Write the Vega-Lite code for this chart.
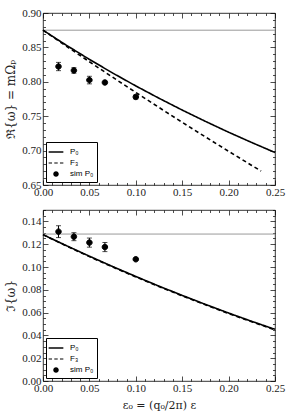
{
  "$schema": "https://vega.github.io/schema/vega-lite/v6.json",
  "padding": {"left": 4, "top": 6, "right": 17, "bottom": 1},
  "spacing": 3,
  "config": {
    "view": {"stroke": "#000", "strokeWidth": 0.8},
    "font": "Liberation Serif",
    "axis": {"domain": false, "grid": false, "labelFont": "Liberation Serif", "labelFontSize": 11, "labelColor": "#222", "tickColor": "#000", "tickWidth": 0.7, "titleFont": "DejaVu Serif", "titleFontWeight": "normal", "titleFontSize": 12, "titleColor": "#222"},
    "legend": {"orient": "bottom-left", "offset": 3, "padding": 3, "strokeColor": "#000", "fillColor": "#fff", "cornerRadius": 0, "labelFont": "Liberation Sans", "labelFontSize": 8, "labelColor": "#000", "symbolSize": 150, "symbolStrokeColor": "#000", "symbolFillColor": "#000", "symbolStrokeWidth": 1, "rowPadding": 0, "labelOffset": 7, "title": null}
  },
  "datasets": {
    "refTop": [{"y": 0.875}],
    "refBot": [{"y": 0.1289}],
    "curvesTop": [
      {"series": "P₀", "x": 0.0, "y": 0.875}, {"series": "P₀", "x": 0.025, "y": 0.8533}, {"series": "P₀", "x": 0.05, "y": 0.8326}, {"series": "P₀", "x": 0.075, "y": 0.8128}, {"series": "P₀", "x": 0.1, "y": 0.794}, {"series": "P₀", "x": 0.125, "y": 0.7761}, {"series": "P₀", "x": 0.15, "y": 0.7589}, {"series": "P₀", "x": 0.175, "y": 0.7425}, {"series": "P₀", "x": 0.2, "y": 0.7267}, {"series": "P₀", "x": 0.225, "y": 0.7117}, {"series": "P₀", "x": 0.25, "y": 0.6972},
      {"series": "F₃", "x": 0.0, "y": 0.875}, {"series": "F₃", "x": 0.025, "y": 0.8519}, {"series": "F₃", "x": 0.05, "y": 0.8291}, {"series": "F₃", "x": 0.075, "y": 0.8067}, {"series": "F₃", "x": 0.1, "y": 0.7845}, {"series": "F₃", "x": 0.125, "y": 0.7627}, {"series": "F₃", "x": 0.15, "y": 0.7411}, {"series": "F₃", "x": 0.175, "y": 0.7199}, {"series": "F₃", "x": 0.2, "y": 0.699}, {"series": "F₃", "x": 0.225, "y": 0.6784}, {"series": "F₃", "x": 0.235, "y": 0.6703}
    ],
    "curvesBot": [
      {"series": "P₀", "x": 0.0, "y": 0.1284}, {"series": "P₀", "x": 0.025, "y": 0.1188}, {"series": "P₀", "x": 0.05, "y": 0.1095}, {"series": "P₀", "x": 0.075, "y": 0.1004}, {"series": "P₀", "x": 0.1, "y": 0.0917}, {"series": "P₀", "x": 0.125, "y": 0.0832}, {"series": "P₀", "x": 0.15, "y": 0.0751}, {"series": "P₀", "x": 0.175, "y": 0.0672}, {"series": "P₀", "x": 0.2, "y": 0.0596}, {"series": "P₀", "x": 0.225, "y": 0.0523}, {"series": "P₀", "x": 0.25, "y": 0.0453},
      {"series": "F₃", "x": 0.0, "y": 0.1284}, {"series": "F₃", "x": 0.025, "y": 0.1185}, {"series": "F₃", "x": 0.05, "y": 0.1091}, {"series": "F₃", "x": 0.075, "y": 0.1}, {"series": "F₃", "x": 0.1, "y": 0.0913}, {"series": "F₃", "x": 0.125, "y": 0.0828}, {"series": "F₃", "x": 0.15, "y": 0.0747}, {"series": "F₃", "x": 0.175, "y": 0.0668}, {"series": "F₃", "x": 0.2, "y": 0.0592}, {"series": "F₃", "x": 0.225, "y": 0.0519}, {"series": "F₃", "x": 0.25, "y": 0.0449}
    ],
    "simTop": [
      {"series": "sim P₀", "x": 0.0167, "y": 0.8222, "err": 0.006},
      {"series": "sim P₀", "x": 0.0333, "y": 0.8165, "err": 0.004},
      {"series": "sim P₀", "x": 0.05, "y": 0.8025, "err": 0.0055},
      {"series": "sim P₀", "x": 0.0667, "y": 0.799, "err": 0.002},
      {"series": "sim P₀", "x": 0.1, "y": 0.778, "err": 0.003}
    ],
    "simBot": [
      {"series": "sim P₀", "x": 0.0167, "y": 0.131, "err": 0.0052},
      {"series": "sim P₀", "x": 0.0333, "y": 0.1266, "err": 0.0035},
      {"series": "sim P₀", "x": 0.05, "y": 0.1214, "err": 0.004},
      {"series": "sim P₀", "x": 0.0667, "y": 0.1175, "err": 0.004},
      {"series": "sim P₀", "x": 0.1, "y": 0.1068, "err": 0.001}
    ]
  },
  "vconcat": [
    {
      "width": 232, "height": 172,
      "layer": [
        {"data": {"name": "refTop"}, "mark": {"type": "rule", "color": "#999", "strokeWidth": 1},
         "encoding": {"y": {"field": "y", "type": "quantitative", "scale": {"domain": [0.65, 0.9]}, "axis": null}}},
        {"data": {"name": "curvesTop"}, "mark": {"type": "line", "color": "#000", "strokeWidth": 1.6},
         "encoding": {
           "x": {"field": "x", "type": "quantitative", "scale": {"domain": [0, 0.25], "nice": false},
                 "axis": {"orient": "bottom", "title": null, "values": [0,0.01,0.02,0.03,0.04,0.05,0.06,0.07,0.08,0.09,0.1,0.11,0.12,0.13,0.14,0.15,0.16,0.17,0.18,0.19,0.2,0.21,0.22,0.23,0.24,0.25],
                          "labelExpr": "abs(datum.value*20 - round(datum.value*20)) < 0.001 ? format(datum.value, '.2f') : ''",
                          "tickSize": {"condition": {"test": "abs(datum.value*20 - round(datum.value*20)) < 0.001", "value": -5}, "value": -2.5},
                          "labelPadding": 6, "labelFlush": false, "labelOverlap": false}},
           "y": {"field": "y", "type": "quantitative", "scale": {"domain": [0.65, 0.9], "nice": false, "zero": false},
                 "axis": {"orient": "left", "title": "ℜ{ω} = mΩₚ", "values": [0.65,0.66,0.67,0.68,0.69,0.7,0.71,0.72,0.73,0.74,0.75,0.76,0.77,0.78,0.79,0.8,0.81,0.82,0.83,0.84,0.85,0.86,0.87,0.88,0.89,0.9],
                          "labelExpr": "abs(datum.value*20 - round(datum.value*20)) < 0.001 ? format(datum.value, '.2f') : ''",
                          "tickSize": {"condition": {"test": "abs(datum.value*20 - round(datum.value*20)) < 0.001", "value": -5}, "value": -2.5},
                          "labelPadding": 7, "labelFlush": false, "labelOverlap": false, "titlePadding": 4}},
           "strokeDash": {"field": "series", "type": "nominal", "scale": {"domain": ["P₀", "F₃", "sim P₀"], "range": [[1, 0], [4, 3], [1, 0]]}}
         }},
        {"data": {"name": "simTop"}, "mark": {"type": "errorbar", "ticks": true, "color": "#000", "thickness": 1},
         "encoding": {"x": {"field": "x", "type": "quantitative", "axis": null}, "y": {"field": "y", "type": "quantitative", "axis": null}, "yError": {"field": "err"}}},
        {"data": {"name": "simTop"}, "mark": {"type": "point", "filled": true, "fill": "#000", "stroke": "#000", "strokeWidth": 1, "size": 150, "opacity": 1},
         "encoding": {
           "x": {"field": "x", "type": "quantitative",
                 "axis": {"orient": "top", "title": null, "labels": false, "values": [0,0.01,0.02,0.03,0.04,0.05,0.06,0.07,0.08,0.09,0.1,0.11,0.12,0.13,0.14,0.15,0.16,0.17,0.18,0.19,0.2,0.21,0.22,0.23,0.24,0.25],
                          "tickSize": {"condition": {"test": "abs(datum.value*20 - round(datum.value*20)) < 0.001", "value": -5}, "value": -2.5}}},
           "y": {"field": "y", "type": "quantitative",
                 "axis": {"orient": "right", "title": null, "labels": false, "values": [0.65,0.66,0.67,0.68,0.69,0.7,0.71,0.72,0.73,0.74,0.75,0.76,0.77,0.78,0.79,0.8,0.81,0.82,0.83,0.84,0.85,0.86,0.87,0.88,0.89,0.9],
                          "tickSize": {"condition": {"test": "abs(datum.value*20 - round(datum.value*20)) < 0.001", "value": -5}, "value": -2.5}}},
           "shape": {"field": "series", "type": "nominal", "scale": {"domain": ["P₀", "F₃", "sim P₀"], "range": ["M-1.2,-0.12H1.2V0.12H-1.2Z", "M-1.2,-0.1H-0.65V0.1H-1.2ZM-0.28,-0.1H0.28V0.1H-0.28ZM0.65,-0.1H1.2V0.1H0.65Z", "M-0.45,0A0.45,0.45,0,1,1,0.45,0A0.45,0.45,0,1,1,-0.45,0Z"]}}
         }}
      ],
      "resolve": {"axis": {"x": "independent", "y": "independent"}}
    },
    {
      "width": 232, "height": 171,
      "layer": [
        {"data": {"name": "refBot"}, "mark": {"type": "rule", "color": "#999", "strokeWidth": 1},
         "encoding": {"y": {"field": "y", "type": "quantitative", "scale": {"domain": [0, 0.15]}, "axis": null}}},
        {"data": {"name": "curvesBot"}, "mark": {"type": "line", "color": "#000", "strokeWidth": 1.6},
         "encoding": {
           "x": {"field": "x", "type": "quantitative", "scale": {"domain": [0, 0.25], "nice": false},
                 "axis": {"orient": "bottom", "title": "ε₀ = (q₀/2π) ε", "values": [0,0.01,0.02,0.03,0.04,0.05,0.06,0.07,0.08,0.09,0.1,0.11,0.12,0.13,0.14,0.15,0.16,0.17,0.18,0.19,0.2,0.21,0.22,0.23,0.24,0.25],
                          "labelExpr": "abs(datum.value*20 - round(datum.value*20)) < 0.001 ? format(datum.value, '.2f') : ''",
                          "tickSize": {"condition": {"test": "abs(datum.value*20 - round(datum.value*20)) < 0.001", "value": -5}, "value": -2.5},
                          "labelPadding": 6, "labelFlush": false, "labelOverlap": false, "titlePadding": 4, "titleFontSize": 11}},
           "y": {"field": "y", "type": "quantitative", "scale": {"domain": [0, 0.15], "nice": false},
                 "axis": {"orient": "left", "title": "ℑ{ω}", "values": [0,0.005,0.01,0.015,0.02,0.025,0.03,0.035,0.04,0.045,0.05,0.055,0.06,0.065,0.07,0.075,0.08,0.085,0.09,0.095,0.1,0.105,0.11,0.115,0.12,0.125,0.13,0.135,0.14,0.145,0.15],
                          "labelExpr": "abs(datum.value*50 - round(datum.value*50)) < 0.001 ? format(datum.value, '.2f') : ''",
                          "tickSize": {"condition": {"test": "abs(datum.value*50 - round(datum.value*50)) < 0.001", "value": -5}, "value": -2.5},
                          "labelPadding": 7, "labelFlush": false, "labelOverlap": false, "titlePadding": 4}},
           "strokeDash": {"field": "series", "type": "nominal", "scale": {"domain": ["P₀", "F₃", "sim P₀"], "range": [[1, 0], [4, 3], [1, 0]]}}
         }},
        {"data": {"name": "simBot"}, "mark": {"type": "errorbar", "ticks": true, "color": "#000", "thickness": 1},
         "encoding": {"x": {"field": "x", "type": "quantitative", "axis": null}, "y": {"field": "y", "type": "quantitative", "axis": null}, "yError": {"field": "err"}}},
        {"data": {"name": "simBot"}, "mark": {"type": "point", "filled": true, "fill": "#000", "stroke": "#000", "strokeWidth": 1, "size": 150, "opacity": 1},
         "encoding": {
           "x": {"field": "x", "type": "quantitative",
                 "axis": {"orient": "top", "title": null, "labels": false, "values": [0,0.01,0.02,0.03,0.04,0.05,0.06,0.07,0.08,0.09,0.1,0.11,0.12,0.13,0.14,0.15,0.16,0.17,0.18,0.19,0.2,0.21,0.22,0.23,0.24,0.25],
                          "tickSize": {"condition": {"test": "abs(datum.value*20 - round(datum.value*20)) < 0.001", "value": -5}, "value": -2.5}}},
           "y": {"field": "y", "type": "quantitative",
                 "axis": {"orient": "right", "title": null, "labels": false, "values": [0,0.005,0.01,0.015,0.02,0.025,0.03,0.035,0.04,0.045,0.05,0.055,0.06,0.065,0.07,0.075,0.08,0.085,0.09,0.095,0.1,0.105,0.11,0.115,0.12,0.125,0.13,0.135,0.14,0.145,0.15],
                          "tickSize": {"condition": {"test": "abs(datum.value*50 - round(datum.value*50)) < 0.001", "value": -5}, "value": -2.5}}},
           "shape": {"field": "series", "type": "nominal", "scale": {"domain": ["P₀", "F₃", "sim P₀"], "range": ["M-1.2,-0.12H1.2V0.12H-1.2Z", "M-1.2,-0.1H-0.65V0.1H-1.2ZM-0.28,-0.1H0.28V0.1H-0.28ZM0.65,-0.1H1.2V0.1H0.65Z", "M-0.45,0A0.45,0.45,0,1,1,0.45,0A0.45,0.45,0,1,1,-0.45,0Z"]}}
         }}
      ],
      "resolve": {"axis": {"x": "independent", "y": "independent"}}
    }
  ],
  "resolve": {"scale": {"strokeDash": "independent", "shape": "independent"}, "legend": {"strokeDash": "independent", "shape": "independent"}}
}
